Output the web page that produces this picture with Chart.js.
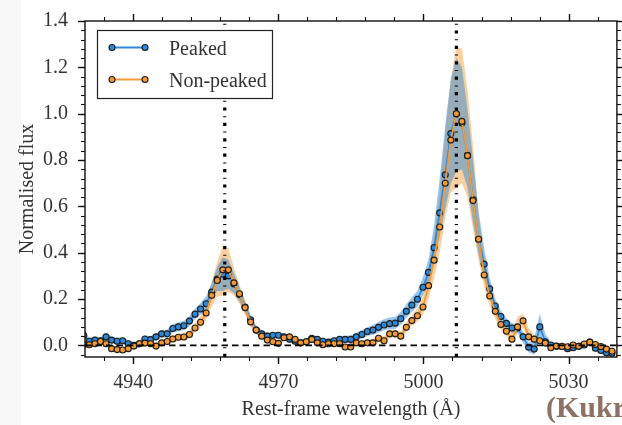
<!DOCTYPE html>
<html>
<head>
<meta charset="utf-8">
<script src="https://cdn.jsdelivr.net/npm/chart.js@4.4.0/dist/chart.umd.min.js"></script>
<style>
  html, body { margin: 0; padding: 0; background: #fff; }
  #wrap { width: 622px; height: 425px; }
</style>
</head>
<body>
<div id="wrap"><canvas id="spec" width="622" height="425"></canvas></div>
<script>
// Rest-frame wavelength grid (Å)
const wavelength = [
  4929.75, 4930.90, 4932.05, 4933.20, 4934.35, 4935.50, 4936.65, 4937.80, 4938.95, 4940.10,
  4941.25, 4942.40, 4943.55, 4944.70, 4945.85, 4947.00, 4948.15, 4949.30, 4950.45, 4951.60,
  4952.75, 4953.90, 4955.05, 4956.20, 4957.35, 4958.50, 4959.65, 4960.80, 4961.95, 4963.10,
  4964.25, 4965.40, 4966.55, 4967.70, 4968.85, 4970.00, 4971.15, 4972.30, 4973.45, 4974.60,
  4975.75, 4976.90, 4978.05, 4979.20, 4980.35, 4981.50, 4982.65, 4983.80, 4984.95, 4986.10,
  4987.25, 4988.40, 4989.55, 4990.70, 4991.85, 4993.00, 4994.15, 4995.30, 4996.45, 4997.60,
  4998.75, 4999.90, 5001.05, 5002.20, 5003.35, 5004.50, 5005.65, 5006.80, 5007.95, 5009.10,
  5010.25, 5011.40, 5012.55, 5013.70, 5014.85, 5016.00, 5017.15, 5018.30, 5019.45, 5020.60,
  5021.75, 5022.90, 5024.05, 5025.20, 5026.35, 5027.50, 5028.65, 5029.80, 5030.95, 5032.10,
  5033.25, 5034.40, 5035.55, 5036.70, 5037.85, 5039.00
];

// Peaked stack: median flux and band
const peakedFlux = [
  0.044, 0.018, 0.023, 0.020, 0.037, 0.023, 0.018, 0.020, 0.007, 0.000,
  0.007, 0.028, 0.025, 0.037, 0.050, 0.050, 0.073, 0.080, 0.085, 0.105,
  0.135, 0.157, 0.180, 0.230, 0.286, 0.307, 0.300, 0.265, 0.220, 0.166,
  0.110, 0.066, 0.050, 0.040, 0.044, 0.044, 0.037, 0.027, 0.018, 0.011,
  0.016, 0.031, 0.026, 0.018, 0.014, 0.020, 0.026, 0.026, 0.026, 0.037,
  0.047, 0.060, 0.066, 0.078, 0.088, 0.094, 0.096, 0.115, 0.147, 0.174,
  0.199, 0.251, 0.315, 0.422, 0.572, 0.736, 0.914, 1.000, 0.960, 0.820,
  0.630, 0.458, 0.351, 0.244, 0.170, 0.125, 0.095, 0.075, 0.075, 0.037,
  -0.008, -0.016, 0.080, 0.016, 0.002, -0.004, -0.004, -0.014, -0.010, -0.004,
  0.002, 0.014, -0.012, -0.022, -0.032, -0.034
];
const peakedLow = [
  0.028, 0.003, 0.008, 0.005, 0.022, 0.008, 0.003, 0.005, -0.008, -0.015,
  -0.008, 0.013, 0.010, 0.021, 0.033, 0.033, 0.055, 0.061, 0.065, 0.084,
  0.112, 0.133, 0.152, 0.198, 0.235, 0.235, 0.245, 0.225, 0.190, 0.142,
  0.090, 0.050, 0.036, 0.026, 0.030, 0.030, 0.023, 0.013, 0.004, -0.003,
  0.002, 0.017, 0.012, 0.004, 0.000, 0.006, 0.011, 0.011, 0.010, 0.020,
  0.029, 0.041, 0.046, 0.056, 0.065, 0.070, 0.071, 0.089, 0.119, 0.144,
  0.167, 0.215, 0.268, 0.360, 0.470, 0.590, 0.700, 0.750, 0.760, 0.680,
  0.530, 0.390, 0.290, 0.200, 0.140, 0.100, 0.072, 0.055, 0.052, 0.012,
  -0.030, -0.040, 0.040, -0.005, -0.012, -0.018, -0.018, -0.028, -0.024, -0.018,
  -0.012, 0.000, -0.026, -0.036, -0.046, -0.048
];
const peakedHigh = [
  0.060, 0.033, 0.038, 0.035, 0.052, 0.038, 0.033, 0.035, 0.022, 0.015,
  0.022, 0.043, 0.040, 0.053, 0.067, 0.068, 0.092, 0.100, 0.106, 0.127,
  0.159, 0.183, 0.212, 0.270, 0.340, 0.380, 0.370, 0.310, 0.252, 0.192,
  0.132, 0.085, 0.066, 0.055, 0.058, 0.058, 0.051, 0.041, 0.032, 0.025,
  0.030, 0.045, 0.040, 0.032, 0.028, 0.034, 0.041, 0.042, 0.043, 0.055,
  0.066, 0.080, 0.088, 0.102, 0.113, 0.120, 0.124, 0.144, 0.178, 0.208,
  0.236, 0.295, 0.372, 0.520, 0.720, 0.950, 1.150, 1.240, 1.200, 1.020,
  0.800, 0.580, 0.420, 0.290, 0.200, 0.150, 0.117, 0.096, 0.092, 0.060,
  0.012, 0.030, 0.137, 0.050, 0.016, 0.010, 0.010, 0.000, 0.004, 0.010,
  0.016, 0.028, 0.002, -0.008, -0.018, -0.020
];

// Non-peaked stack: median flux and band
const nonPeakedFlux = [
  0.003, 0.003, 0.007, 0.017, 0.007, -0.014, -0.018, -0.020, -0.014, -0.003,
  0.007, 0.010, 0.007, -0.003, 0.011, 0.017, 0.028, 0.035, 0.036, 0.047,
  0.075, 0.100, 0.140, 0.216, 0.280, 0.326, 0.326, 0.270, 0.223, 0.163,
  0.101, 0.066, 0.040, 0.023, 0.016, 0.009, 0.033, 0.037, 0.026, 0.011,
  0.016, 0.026, 0.011, 0.003, 0.007, 0.007, 0.007, -0.007, -0.007, 0.011,
  0.007, 0.011, 0.011, 0.031, 0.020, 0.050, 0.050, 0.040, 0.078, 0.107,
  0.128, 0.166, 0.258, 0.368, 0.511, 0.700, 0.886, 1.000, 0.967, 0.819,
  0.625, 0.458, 0.304, 0.213, 0.147, 0.090, 0.061, 0.027, 0.080, 0.106,
  0.037, 0.027, 0.020, 0.010, -0.010, -0.003, -0.005, -0.006, 0.002, -0.004,
  0.006, 0.014, 0.004, -0.005, -0.016, -0.025
];
const nonPeakedLow = [
  -0.010, -0.010, -0.006, 0.004, -0.006, -0.027, -0.031, -0.033, -0.027, -0.016,
  -0.006, -0.003, -0.006, -0.016, -0.002, 0.004, 0.014, 0.020, 0.021, 0.030,
  0.056, 0.078, 0.110, 0.168, 0.210, 0.215, 0.232, 0.215, 0.180, 0.132,
  0.080, 0.049, 0.026, 0.010, 0.003, -0.004, 0.020, 0.024, 0.013, -0.002,
  0.003, 0.013, -0.002, -0.010, -0.006, -0.006, -0.006, -0.020, -0.020, -0.002,
  -0.006, -0.003, -0.003, 0.015, 0.004, 0.033, 0.033, 0.024, 0.058, 0.085,
  0.102, 0.130, 0.200, 0.290, 0.400, 0.550, 0.660, 0.680, 0.700, 0.640,
  0.500, 0.370, 0.250, 0.170, 0.115, 0.068, 0.040, 0.010, 0.055, 0.075,
  0.020, 0.012, 0.007, -0.003, -0.023, -0.016, -0.018, -0.019, -0.011, -0.017,
  -0.007, 0.001, -0.009, -0.018, -0.029, -0.038
];
const nonPeakedHigh = [
  0.016, 0.016, 0.020, 0.030, 0.020, -0.001, -0.005, -0.007, -0.001, 0.010,
  0.020, 0.023, 0.020, 0.010, 0.024, 0.031, 0.042, 0.050, 0.052, 0.065,
  0.097, 0.128, 0.178, 0.270, 0.360, 0.430, 0.420, 0.335, 0.262, 0.192,
  0.125, 0.085, 0.057, 0.037, 0.029, 0.022, 0.046, 0.050, 0.039, 0.024,
  0.029, 0.039, 0.024, 0.016, 0.020, 0.020, 0.020, 0.006, 0.006, 0.024,
  0.020, 0.025, 0.026, 0.047, 0.038, 0.068, 0.068, 0.060, 0.100, 0.131,
  0.160, 0.210, 0.330, 0.470, 0.660, 0.920, 1.150, 1.290, 1.280, 1.100,
  0.860, 0.560, 0.380, 0.262, 0.180, 0.115, 0.080, 0.060, 0.125, 0.135,
  0.075, 0.045, 0.033, 0.023, 0.003, 0.010, 0.008, 0.007, 0.015, 0.009,
  0.019, 0.027, 0.017, 0.008, -0.003, -0.012
];

const seriesLabels = ['Peaked', 'Non-peaked'];
const lineCentres = [4958.9, 5006.8];      // [OIII] doublet
const xTicks = [4940, 4970, 5000, 5030];
const yTicks = [0, 0.2, 0.4, 0.6, 0.8, 1.0, 1.2, 1.4];

const BLUE = '#2d88d8';
const ORANGE = '#f39a34';
const FONT = "'Liberation Serif', 'Times New Roman', serif";
const TEXT = '#333333';

function toPoints(values) {
  return wavelength.map((w, i) => ({ x: w, y: values[i] }));
}

function bandSet(values, color, fill) {
  return {
    data: toPoints(values),
    borderWidth: 0,
    borderColor: 'rgba(0,0,0,0)',
    backgroundColor: color,
    pointRadius: 0,
    fill: fill,
    clip: 0
  };
}

function lineSet(label, values, color) {
  return {
    label: label,
    data: toPoints(values),
    borderColor: color,
    borderWidth: 1.8,
    pointRadius: 3,
    pointBorderWidth: 1.1,
    pointBorderColor: '#1c1c1c',
    pointBackgroundColor: color,
    fill: false,
    clip: 0
  };
}

// minor tick positions (axis decoration only)
function minorTicks(first, step, last) {
  const out = [];
  for (let v = first; v <= last + 1e-9; v += step) out.push(Math.round(v * 1000) / 1000);
  return out;
}
const xMinor = minorTicks(4934, 6, 5040);
const yMinor = minorTicks(-0.04, 0.04, 1.4);

// Background strip of the slide on the left edge
const pageBackground = {
  id: 'pageBackground',
  beforeDraw: (chart) => {
    const ctx = chart.ctx;
    ctx.save();
    ctx.fillStyle = '#ffffff';
    ctx.fillRect(0, 0, chart.width, chart.height);
    ctx.fillStyle = '#f8f8f8';
    ctx.fillRect(0, 0, 21, chart.height);
    ctx.restore();
  }
};

// Zero level and [OIII] line centres
const referenceLines = {
  id: 'referenceLines',
  afterDatasetsDraw: (chart) => {
    const ctx = chart.ctx;
    const a = chart.chartArea;
    const xs = chart.scales.x;
    const ys = chart.scales.y;
    ctx.save();
    ctx.beginPath();
    ctx.rect(a.left, a.top, a.right - a.left, a.bottom - a.top);
    ctx.clip();
    ctx.strokeStyle = '#000';

    const y0 = ys.getPixelForValue(0);
    ctx.lineWidth = 1.8;
    ctx.setLineDash([6.5, 4]);
    ctx.beginPath();
    ctx.moveTo(a.left, y0);
    ctx.lineTo(a.right, y0);
    ctx.stroke();

    ctx.lineWidth = 3.2;
    ctx.setLineDash([3.2, 5.6, 1, 5.6]);
    lineCentres.forEach(w => {
      const px = xs.getPixelForValue(w);
      ctx.beginPath();
      ctx.moveTo(px, a.bottom);
      ctx.lineTo(px, a.top);
      ctx.stroke();
    });
    ctx.restore();
  }
};

// Frame with outward ticks on all four sides
const axesFrame = {
  id: 'axesFrame',
  afterDraw: (chart) => {
    const ctx = chart.ctx;
    const a = chart.chartArea;
    const xs = chart.scales.x;
    const ys = chart.scales.y;
    ctx.save();
    ctx.strokeStyle = '#111';
    ctx.lineWidth = 1.4;
    ctx.strokeRect(a.left, a.top, a.right - a.left, a.bottom - a.top);

    const seg = (x1, y1, x2, y2) => {
      ctx.beginPath();
      ctx.moveTo(x1, y1);
      ctx.lineTo(x2, y2);
      ctx.stroke();
    };
    const drawX = (values, len) => values.forEach(v => {
      const px = Math.round(xs.getPixelForValue(v)) + 0.5;
      if (px < a.left - 1 || px > a.right + 1) return;
      seg(px, a.bottom, px, a.bottom + len);
      seg(px, a.top, px, a.top - len);
    });
    const drawY = (values, len) => values.forEach(v => {
      const py = Math.round(ys.getPixelForValue(v)) + 0.5;
      if (py < a.top - 1 || py > a.bottom + 1) return;
      seg(a.left, py, a.left - len, py);
      seg(a.right, py, a.right + len, py);
    });
    ctx.lineWidth = 1.1;
    drawX(xMinor, 4);
    drawY(yMinor, 4);
    ctx.lineWidth = 1.4;
    drawX(xTicks, 7);
    drawY(yTicks, 7);
    ctx.restore();
  }
};

// Boxed legend in the upper left
const boxLegend = {
  id: 'boxLegend',
  afterDraw: (chart) => {
    const ctx = chart.ctx;
    const rows = [
      { label: seriesLabels[0], color: BLUE, y: 47.5 },
      { label: seriesLabels[1], color: ORANGE, y: 79.5 }
    ];
    ctx.save();
    ctx.fillStyle = '#fff';
    ctx.fillRect(97.5, 30.5, 175, 68);
    ctx.strokeStyle = '#222';
    ctx.lineWidth = 1.2;
    ctx.strokeRect(97.5, 30.5, 175, 68);

    rows.forEach(r => {
      ctx.strokeStyle = r.color;
      ctx.lineWidth = 1.8;
      ctx.beginPath();
      ctx.moveTo(112, r.y);
      ctx.lineTo(145, r.y);
      ctx.stroke();
      [112, 145].forEach(px => {
        ctx.beginPath();
        ctx.arc(px, r.y, 3, 0, Math.PI * 2);
        ctx.fillStyle = r.color;
        ctx.fill();
        ctx.lineWidth = 1.1;
        ctx.strokeStyle = '#1c1c1c';
        ctx.stroke();
      });
      ctx.fillStyle = TEXT;
      ctx.font = '20px ' + FONT;
      ctx.textBaseline = 'alphabetic';
      ctx.textAlign = 'left';
      ctx.fillText(r.label, 169, r.y + 7);
    });

    // citation fragment at the slide edge
    ctx.fillStyle = '#8b7166';
    ctx.font = 'bold 30px ' + FONT;
    ctx.fillText('(Kukr', 546, 417);
    ctx.restore();
  }
};

const ctx = document.getElementById('spec').getContext('2d');
new Chart(ctx, {
  type: 'line',
  data: {
    datasets: [
      bandSet(nonPeakedLow, 'rgba(245,150,45,0.45)', false),
      bandSet(nonPeakedHigh, 'rgba(245,150,45,0.45)', '-1'),
      bandSet(peakedLow, 'rgba(45,136,216,0.48)', false),
      bandSet(peakedHigh, 'rgba(45,136,216,0.48)', '-1'),
      lineSet(seriesLabels[0], peakedFlux, BLUE),
      lineSet(seriesLabels[1], nonPeakedFlux, ORANGE)
    ].map((d, i, all) => Object.assign(d, { order: all.length - i }))
  },
  options: {
    responsive: false,
    devicePixelRatio: 1,
    animation: false,
    layout: { padding: { top: 20, right: 2, left: 0, bottom: 0 } },
    elements: { line: { tension: 0 } },
    plugins: {
      legend: { display: false },
      tooltip: { enabled: false },
      filler: { propagate: false }
    },
    scales: {
      x: {
        type: 'linear',
        min: 4930,
        max: 5040,
        grid: { display: false },
        border: { display: false },
        afterBuildTicks: (scale) => { scale.ticks = xTicks.map(v => ({ value: v })); },
        afterFit: (scale) => { scale.height = 68; },
        ticks: {
          padding: 6,
          color: TEXT,
          font: { family: FONT, size: 20 },
          maxRotation: 0,
          callback: (v) => String(v)
        },
        title: {
          display: true,
          text: 'Rest-frame wavelength (Å)',
          color: TEXT,
          font: { family: FONT, size: 20 },
          padding: { top: 0, bottom: 3 }
        }
      },
      y: {
        type: 'linear',
        min: -0.05,
        max: 1.4,
        grid: { display: false },
        border: { display: false },
        afterBuildTicks: (scale) => { scale.ticks = yTicks.map(v => ({ value: v })); },
        afterFit: (scale) => { scale.width = 85; },
        ticks: {
          padding: 9,
          color: TEXT,
          font: { family: FONT, size: 20 },
          callback: (v) => Number(v).toFixed(1)
        },
        title: {
          display: true,
          text: 'Normalised flux',
          color: TEXT,
          font: { family: FONT, size: 20 },
          padding: { top: 16, bottom: 0 }
        }
      }
    }
  },
  plugins: [pageBackground, referenceLines, axesFrame, boxLegend]
});
</script>
</body>
</html>
